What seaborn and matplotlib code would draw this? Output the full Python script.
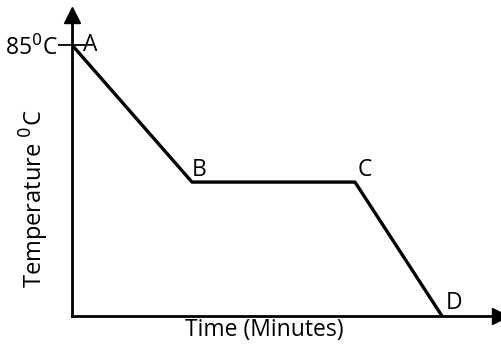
import matplotlib
matplotlib.use("Agg")
import matplotlib.pyplot as plt
import seaborn as sns
import pandas as pd

# Cooling curve points
points = ["A", "B", "C", "D"]
time_min = [0, 12, 28.3, 37]
temp_c = [85, 42, 42, 0]

df = pd.DataFrame({"Time": time_min, "Temp": temp_c, "Point": points})

sns.set_style("white")
plt.rcParams['font.family'] = ['Open Sans', 'DejaVu Sans']
plt.rcParams['text.color'] = 'black'
plt.rcParams['axes.labelcolor'] = 'black'
plt.rcParams['ytick.color'] = 'black'

fig = plt.figure(figsize=(5.01, 3.47), dpi=100)
ax = fig.add_axes([72 / 501, 1 - 316 / 347, 428 / 501, 301 / 347])

sns.lineplot(data=df, x="Time", y="Temp", color="black", linewidth=2.4, ax=ax, sort=False)

ax.set_xlim(0, 42.8)
ax.set_ylim(0, 94.4)

# axes with arrow heads
for s in ["top", "right"]:
    ax.spines[s].set_visible(False)
for s in ["left", "bottom"]:
    ax.spines[s].set_linewidth(2)
    ax.spines[s].set_color("black")
ax.plot(1, 0, ">k", markersize=11, transform=ax.transAxes, clip_on=False)
ax.plot(0, 1, "^k", markersize=11, transform=ax.transAxes, clip_on=False)

fs = 16.5
ax.set_xticks([])
ax.set_yticks([85])
ax.set_yticklabels(["85$^0$C"], fontsize=fs)
ax.tick_params(axis="y", direction="inout", length=20, width=1.3, pad=0, left=True)

ax.set_xlabel("Time (Minutes)", fontsize=fs)
ax.set_ylabel("Temperature $^0$C", fontsize=17)
ax.xaxis.set_label_coords(0.45, -0.005, transform=ax.transAxes)
ax.xaxis.label.set_va("top")
ax.yaxis.set_label_coords(-0.05, 0.39)

offsets = {"A": (8, 0), "B": (0, 0), "C": (2, 0), "D": (3, 1)}
for p, t, v in zip(points, time_min, temp_c):
    ax.annotate(p, (t, v), xytext=offsets[p], textcoords="offset points",
                ha="left", va="bottom" if p != "A" else "center", fontsize=fs)

fig.savefig("out.png", dpi=100)
